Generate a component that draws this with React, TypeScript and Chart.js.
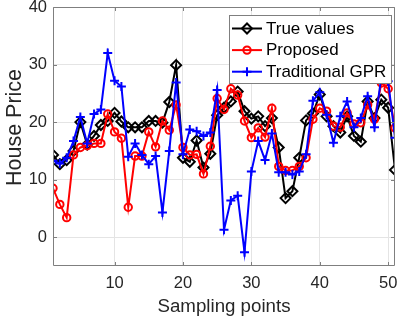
import React, { useEffect, useRef } from "react";
import { Chart, registerables } from "chart.js";

Chart.register(...registerables);

const samplingPoints = [
  1, 2, 3, 4, 5, 6, 7, 8, 9, 10, 11, 12, 13, 14, 15, 16, 17, 18, 19, 20, 21, 22, 23, 24, 25,
  26, 27, 28, 29, 30, 31, 32, 33, 34, 35, 36, 37, 38, 39, 40, 41, 42, 43, 44, 45, 46, 47, 48, 49, 50, 51,
];

const trueValues = [
  14.3, 12.7, 13.4, 15.0, 20.0, 16.1, 17.6, 19.5, 20.2, 21.6, 20.1, 19.1, 19.1, 19.1, 20.2, 20.2, 19.9,
  23.5, 29.9, 13.8, 13.1, 16.8, 12.1, 14.5, 21.2, 22.5, 23.6, 25.3, 21.9, 20.6, 21.0, 19.3, 20.7, 15.6,
  6.8, 8.0, 13.8, 20.3, 21.5, 24.8, 21.0, 19.3, 18.2, 21.0, 17.6, 16.6, 23.6, 20.7, 23.9, 22.5, 11.7,
];

const proposed = [
  8.5, 5.7, 3.4, 14.3, 15.6, 15.9, 16.3, 16.3, 21.4, 18.3, 17.2, 5.2, 14.1, 14.1, 18.3, 15.7, 20.2,
  18.6, 23.0, 15.6, 14.3, 14.4, 11.0, 15.8, 24.1, 22.2, 25.8, 24.7, 20.2, 17.3, 19.0, 17.4, 22.4, 12.3,
  11.6, 11.6, 12.3, 13.8, 20.5, 22.4, 21.9, 19.3, 19.1, 21.6, 19.7, 19.9, 23.0, 20.5, 26.8, 25.8, 19.0,
];

const traditionalGPR = [
  13.3, 12.8, 13.8, 16.7, 20.9, 16.3, 21.4, 22.2, 32.0, 27.2, 26.2, 14.0, 16.3, 14.3, 12.7, 14.1, 4.3,
  15.0, 26.9, 14.4, 18.7, 18.4, 17.6, 18.2, 25.6, 1.3, 6.4, 7.2, -2.6, 11.4, 16.7, 13.4, 18.0, 11.3,
  11.3, 10.9, 11.4, 14.4, 23.7, 25.2, 21.3, 16.4, 21.0, 23.6, 19.1, 20.7, 24.5, 19.1, 27.9, 27.1, 17.3,
];

const xTicks = [10, 20, 30, 40, 50];
const yTicks = [0, 10, 20, 30, 40];

const FONT = '"Liberation Sans", Arial, Helvetica, sans-serif';
const AXIS_COLOR = "#7f7f7f";
const TEXT_COLOR = "#262626";
const Y_TITLE = "House Price";

function toPoints(values: number[]) {
  return samplingPoints.map((x, i) => ({ x, y: values[i] }));
}

function drawMarker(ctx: CanvasRenderingContext2D, style: string, x: number, y: number, r: number) {
  ctx.beginPath();
  if (style === "rectRot") {
    ctx.moveTo(x - r, y);
    ctx.lineTo(x, y - r);
    ctx.lineTo(x + r, y);
    ctx.lineTo(x, y + r);
    ctx.closePath();
  } else if (style === "circle") {
    ctx.arc(x, y, r, 0, Math.PI * 2);
  } else if (style === "cross") {
    ctx.moveTo(x - r, y);
    ctx.lineTo(x + r, y);
    ctx.moveTo(x, y - r);
    ctx.lineTo(x, y + r);
  }
  ctx.stroke();
}

const framePlugin = {
  id: "frame",
  afterDatasetsDraw(chart: any) {
    const { ctx, chartArea: a, scales } = chart;
    const L = Math.round(a.left) + 0.5;
    const R = Math.round(a.right) - 0.5;
    const T = Math.round(a.top) + 0.5;
    const B = Math.round(a.bottom) - 0.5;
    ctx.save();
    ctx.strokeStyle = AXIS_COLOR;
    ctx.lineWidth = 1;
    ctx.beginPath();
    ctx.rect(L, T, R - L, B - T);
    const tl = 3.5;
    xTicks.forEach((v) => {
      const px = Math.round(scales.x.getPixelForValue(v)) + 0.5;
      ctx.moveTo(px, B);
      ctx.lineTo(px, B - tl);
      ctx.moveTo(px, T);
      ctx.lineTo(px, T + tl);
    });
    yTicks.forEach((v) => {
      const py = Math.round(scales.y.getPixelForValue(v)) + 0.5;
      ctx.moveTo(L, py);
      ctx.lineTo(L + tl, py);
      ctx.moveTo(R, py);
      ctx.lineTo(R - tl, py);
    });
    ctx.stroke();
    ctx.restore();
  },
  afterDraw(chart: any) {
    // y-axis title, placed like the reference (slightly above the axis centre)
    const { ctx, chartArea: a } = chart;
    ctx.save();
    ctx.translate(15.5, (a.top + a.bottom) / 2 - 9);
    ctx.rotate(-Math.PI / 2);
    ctx.fillStyle = TEXT_COLOR;
    ctx.font = `21.5px ${FONT}`;
    ctx.textAlign = "center";
    ctx.textBaseline = "middle";
    ctx.fillText(Y_TITLE, 0, 0);
    ctx.restore();
  },
};

const legendPlugin = {
  id: "customLegend",
  afterDraw(chart: any) {
    const { ctx } = chart;
    const bx = 229.5;
    const by = 15.5;
    const bw = 162;
    const bh = 68;
    ctx.save();
    ctx.fillStyle = "#ffffff";
    ctx.fillRect(bx, by, bw, bh);
    ctx.strokeStyle = AXIS_COLOR;
    ctx.lineWidth = 1;
    ctx.strokeRect(bx, by, bw, bh);
    chart.data.datasets.forEach((ds: any, i: number) => {
      const cy = 28.5 + i * 21.6;
      ctx.strokeStyle = ds.borderColor;
      ctx.lineWidth = ds.borderWidth;
      ctx.beginPath();
      ctx.moveTo(232, cy);
      ctx.lineTo(262, cy);
      ctx.stroke();
      ctx.lineWidth = ds.pointBorderWidth;
      drawMarker(ctx, ds.pointStyle, 247, cy, ds.pointRadius);
      ctx.fillStyle = "#000000";
      ctx.font = `17px ${FONT}`;
      ctx.textBaseline = "middle";
      ctx.textAlign = "left";
      ctx.fillText(ds.label, 266, cy + 0.5);
    });
    ctx.restore();
  },
};

export default function App() {
  const canvasRef = useRef<HTMLCanvasElement | null>(null);

  useEffect(() => {
    if (!canvasRef.current) return;
    const chart = new Chart(canvasRef.current, {
      type: "line",
      data: {
        datasets: [
          {
            label: "True values",
            data: toPoints(trueValues),
            borderColor: "#000000",
            borderWidth: 2,
            pointStyle: "rectRot",
            pointRadius: 5,
            pointBorderWidth: 2,
            pointBorderColor: "#000000",
            pointBackgroundColor: "rgba(0,0,0,0)",
            tension: 0,
            order: 3,
          },
          {
            label: "Proposed",
            data: toPoints(proposed),
            borderColor: "#ff0000",
            borderWidth: 2,
            pointStyle: "circle",
            pointRadius: 3.7,
            pointBorderWidth: 2,
            pointBorderColor: "#ff0000",
            pointBackgroundColor: "rgba(0,0,0,0)",
            tension: 0,
            order: 2,
          },
          {
            label: "Traditional GPR",
            data: toPoints(traditionalGPR),
            borderColor: "#0000ff",
            borderWidth: 2,
            pointStyle: "cross",
            pointRadius: 4.5,
            pointBorderWidth: 2,
            pointBorderColor: "#0000ff",
            pointBackgroundColor: "rgba(0,0,0,0)",
            tension: 0,
            order: 1,
          },
        ] as any,
      },
      options: {
        animation: false,
        responsive: false,
        devicePixelRatio: 1,
        layout: { padding: { top: 5, left: 0, right: 0, bottom: 0 } },
        plugins: {
          legend: { display: false },
          tooltip: { enabled: false },
        },
        elements: { line: { tension: 0 } },
        scales: {
          x: {
            type: "linear",
            min: 1,
            max: 51,
            afterBuildTicks: (s: any) => {
              s.ticks = xTicks.map((v) => ({ value: v }));
            },
            afterFit: (s: any) => {
              s.height = 56;
              s.paddingLeft = 0;
              s.paddingRight = 0;
            },
            grid: { color: "#e4e4e4", drawTicks: false, lineWidth: 1 },
            border: { display: false },
            ticks: {
              padding: 8,
              color: TEXT_COLOR,
              font: { family: FONT, size: 16.5 },
              maxRotation: 0,
              autoSkip: false,
            },
            title: {
              display: true,
              text: "Sampling points",
              color: TEXT_COLOR,
              font: { family: FONT, size: 18.7 },
              padding: { top: 0, bottom: 4 },
            },
          },
          y: {
            type: "linear",
            min: -5,
            max: 40,
            afterBuildTicks: (s: any) => {
              s.ticks = yTicks.map((v) => ({ value: v }));
            },
            afterFit: (s: any) => {
              s.width = 53;
              s.paddingTop = 0;
              s.paddingBottom = 0;
            },
            grid: { color: "#e4e4e4", drawTicks: false, lineWidth: 1 },
            border: { display: false },
            ticks: {
              padding: 6,
              color: TEXT_COLOR,
              font: { family: FONT, size: 16.5 },
            },
            title: { display: false, text: Y_TITLE },
          },
        },
      } as any,
      plugins: [framePlugin, legendPlugin],
    });
    return () => chart.destroy();
  }, []);

  return (
    <div style={{ position: "absolute", left: 0, top: 0, width: 402, height: 322, background: "#ffffff" }}>
      <canvas ref={canvasRef} width={402} height={322} style={{ display: "block", width: 402, height: 322 }} />
    </div>
  );
}
